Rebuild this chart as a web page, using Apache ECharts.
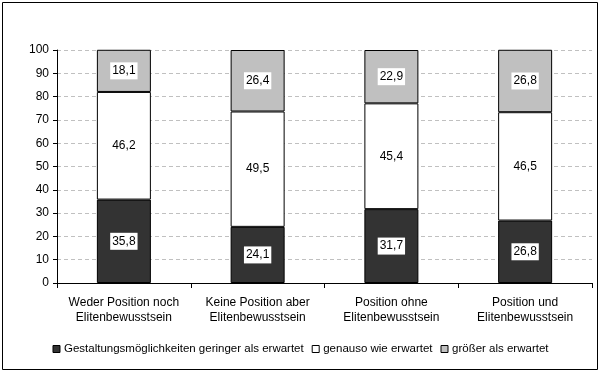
<!DOCTYPE html>
<html><head><meta charset="utf-8">
<script src="https://cdn.jsdelivr.net/npm/echarts@6/dist/echarts.min.js"></script>
<style>html,body{margin:0;padding:0;background:#fff}#c{width:601px;height:374px}</style>
</head><body><div id="c"></div>
<script>
const categories = ['Weder Position noch\nElitenbewusstsein', 'Keine Position aber\nElitenbewusstsein', 'Position ohne\nElitenbewusstsein', 'Position und\nElitenbewusstsein'];
const seriesNames = ['Gestaltungsmöglichkeiten geringer als erwartet', 'genauso wie erwartet', 'größer als erwartet'];
const geringer = [35.8, 24.1, 31.7, 26.8];
const genauso = [46.2, 49.5, 45.4, 46.5];
const groesser = [18.1, 26.4, 22.9, 26.8];
const colors = ['#333333', '#ffffff', '#c0c0c0'];
const font = 'Liberation Sans, Arial, sans-serif';

const chart = echarts.init(document.getElementById('c'));
function mk(name, data, color) {
  return {
    name, type: 'bar', stack: 'a', data, barWidth: 54,
    itemStyle: { color, borderColor: '#000', borderWidth: 1 },
    label: {
      show: true, position: 'inside', color: '#000', fontFamily: font, fontSize: 12,
      backgroundColor: '#fff', padding: [3, 2, 2, 2],
      formatter: p => String(p.value).replace('.', ',')
    }
  };
}
chart.setOption({
  animation: false,
  graphic: [{ type: 'rect', shape: { x: 2.5, y: 2.5, width: 595, height: 367 }, style: { fill: 'none', stroke: '#000', lineWidth: 1 } }],
  grid: { left: 57, right: 9, top: 50, bottom: 91 },
  legend: {
    bottom: 14, left: 'center', icon: 'rect', itemWidth: 7, itemHeight: 7, itemGap: 8,
    textStyle: { fontFamily: font, fontSize: 11.5, color: '#000', padding: [0, 0, 0, -1] },
    data: seriesNames.map((n, i) => ({ name: n, itemStyle: { color: colors[i], borderColor: '#000', borderWidth: 1 } }))
  },
  xAxis: {
    type: 'category', data: categories,
    axisLine: { lineStyle: { color: '#000', width: 1 } },
    axisTick: { show: true, length: 5, lineStyle: { color: '#000' } },
    axisLabel: { interval: 0, fontFamily: font, fontSize: 12, color: '#000', margin: 12, lineHeight: 15 }
  },
  yAxis: {
    type: 'value', min: 0, max: 100, interval: 10,
    axisLine: { show: true, lineStyle: { color: '#000', width: 1 } },
    axisTick: { show: true, length: 4, lineStyle: { color: '#000' } },
    axisLabel: { fontFamily: font, fontSize: 12, color: '#000', margin: 8 },
    splitLine: { lineStyle: { color: '#c0c0c0', type: [4, 3] } }
  },
  series: [mk(seriesNames[0], geringer, colors[0]), mk(seriesNames[1], genauso, colors[1]), mk(seriesNames[2], groesser, colors[2])]
});
</script></body></html>
